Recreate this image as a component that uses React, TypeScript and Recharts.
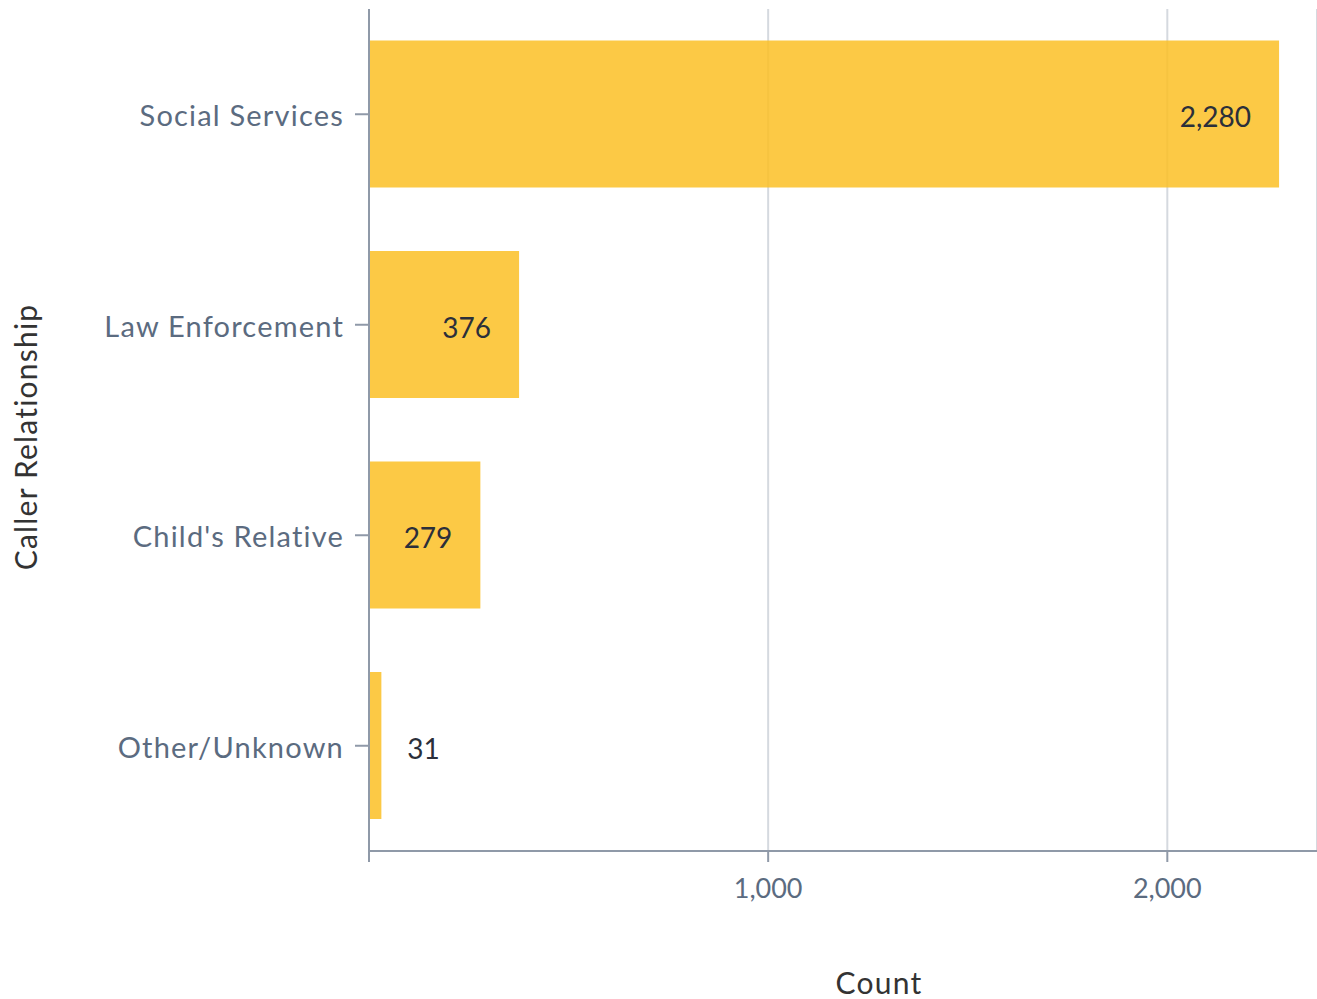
import React from 'react';
import { BarChart, Bar, XAxis, YAxis, CartesianGrid, LabelList } from 'recharts';

const categories = ['Social Services', 'Law Enforcement', "Child's Relative", 'Other/Unknown'];
const counts = [2280, 376, 279, 31];
const xTicks = [0, 1000, 2000];

const data = categories.map((name, i) => ({ name, count: counts[i] }));

const AXIS = '#8f99a8';
const TICK_TEXT = '#5b6b80';
const FONT = 'Lato, "Noto Sans", sans-serif';

const fmt = (v: number) => v.toLocaleString('en-US');

const XTick = (props: any) => {
  const { x, y, payload } = props;
  if (payload.value === 0) return null;
  return (
    <text x={x} y={y + 34} textAnchor="middle" fill={TICK_TEXT} fontSize={27} fontFamily={FONT}>
      {fmt(payload.value)}
    </text>
  );
};

const YTick = (props: any) => {
  const { x, y, payload } = props;
  return (
    <text
      x={x}
      y={y}
      dy={12}
      textAnchor="end"
      fill={TICK_TEXT}
      fontSize={29}
      letterSpacing={1.2}
      fontFamily={FONT}
    >
      {payload.value}
    </text>
  );
};

const ValueLabel = (props: any) => {
  const { x, y, width, height, value } = props;
  const inside = width > 80;
  return (
    <text
      x={inside ? x + width - 28 : x + width + 26}
      y={y + height / 2}
      dy={13}
      textAnchor={inside ? 'end' : 'start'}
      fill="#2b2f3a"
      fontSize={28}
      fontFamily={FONT}
    >
      {fmt(value)}
    </text>
  );
};

const App: React.FC = () => {
  return (
    <div style={{ position: 'absolute', left: 0, top: 0, background: '#fff' }}>
      <BarChart
        width={1317}
        height={999}
        data={data}
        layout="vertical"
        margin={{ top: 9, right: 0, left: 0, bottom: 0 }}
        barCategoryGap="15%"
      >
        <CartesianGrid horizontal={false} stroke="#d5d9df" strokeWidth={2} />
        <XAxis
          type="number"
          dataKey="count"
          domain={[0, 2375]}
          ticks={xTicks}
          height={148}
          stroke={AXIS}
          strokeWidth={2}
          tickSize={11}
          tick={<XTick />}
          label={(p: any) => (
            <text
              x={879}
              y={994}
              textAnchor="middle"
              fill="#333"
              fontSize={30}
              letterSpacing={1.2}
              fontFamily={FONT}
            >
              Count
            </text>
          )}
        />
        <YAxis
          type="category"
          dataKey="name"
          width={369}
          stroke={AXIS}
          strokeWidth={2}
          tickSize={14}
          tickMargin={11}
          tick={<YTick />}
          label={(p: any) => (
            <text
              x={25}
              y={437}
              transform="rotate(-90 25 437)"
              textAnchor="middle"
              dominantBaseline="central"
              fill="#333"
              fontSize={30}
              letterSpacing={1.2}
              fontFamily={FONT}
            >
              Caller Relationship
            </text>
          )}
        />
        <Bar dataKey="count" fill="#fbbf24" fillOpacity={0.85} isAnimationActive={false}>
          <LabelList dataKey="count" content={<ValueLabel />} />
        </Bar>
      </BarChart>
    </div>
  );
};

export default App;
